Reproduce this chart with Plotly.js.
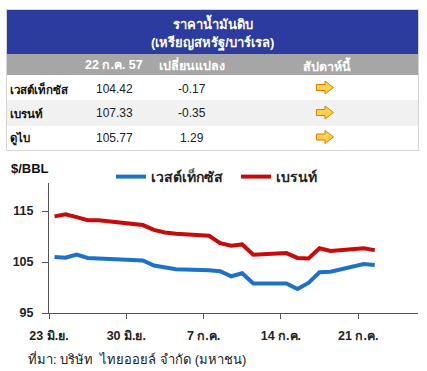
<!DOCTYPE html>
<html>
<head>
<meta charset="utf-8">
<script src="https://cdn.plot.ly/plotly-3.0.1.min.js"></script>
<style>html,body{margin:0;padding:0;background:#fff;}#chart{width:427px;height:371px;}</style>
</head>
<body>
<div id="chart"></div>
<script>
// ---------- data ----------
var dates = ['2014-06-23','2014-06-24','2014-06-25','2014-06-26','2014-06-27',
             '2014-06-30','2014-07-01','2014-07-02','2014-07-03','2014-07-04',
             '2014-07-07','2014-07-08','2014-07-09','2014-07-10','2014-07-11',
             '2014-07-14','2014-07-15','2014-07-16','2014-07-17','2014-07-18',
             '2014-07-21','2014-07-22'];
var wtiValues   = [106.0,105.85,106.45,105.8,105.7,105.5,105.3,104.3,103.9,103.6,
                   103.4,103.2,102.2,102.8,100.8,100.8,99.7,100.9,103.0,103.1,104.59,104.42];
var brentValues = [113.95,114.35,113.8,113.2,113.2,112.45,112.25,111.3,110.8,110.55,
                   110.15,108.7,108.2,108.45,106.45,106.75,105.8,105.7,107.7,107.15,107.68,107.33];
var seriesNames = ['เวสต์เท็กซัส','เบรนท์'];
var xTickVals  = ['2014-06-22 12:00','2014-06-29 12:00','2014-07-06 12:00','2014-07-13 12:00','2014-07-20 12:00'];
var xTickText  = ['23 มิ.ย.','30 มิ.ย.','7 ก.ค.','14 ก.ค.','21 ก.ค.'];
var yTickVals  = [95,105,115];

var tableTitle1 = 'ราคาน้ำมันดิบ';
var tableTitle2 = '(เหรียญสหรัฐ/บาร์เรล)';
var tableHeaders = ['22 ก.ค. 57','เปลี่ยนแปลง','สัปดาห์นี้'];
var rowNames   = ['เวสต์เท็กซัส','เบรนท์','ดูไบ'];
var rowPrices  = ['104.42','107.33','105.77'];
var rowChanges = ['-0.17','-0.35','1.29'];
var yUnit = '$/BBL';
var sourceText = 'ที่มา: บริษัท  ไทยออยล์ จำกัด (มหาชน)';

// ---------- helpers (pixel -> paper) ----------
var W = 427, H = 371;
function px(x){ return x / W; }
function py(y){ return 1 - y / H; }
var FONT = 'Tahoma, "Liberation Sans", Arial, sans-serif';

var shapes = [];
var annotations = [];

// table backgrounds
shapes.push({type:'rect', xref:'paper', yref:'paper', x0:px(7), x1:px(418), y0:py(10), y1:py(54),
             fillcolor:'#2b3c9e', line:{width:0}, layer:'below'});
shapes.push({type:'rect', xref:'paper', yref:'paper', x0:px(7), x1:px(418), y0:py(54), y1:py(75),
             fillcolor:'#a6a6a6', line:{width:0}, layer:'below'});
shapes.push({type:'rect', xref:'paper', yref:'paper', x0:px(7), x1:px(418), y0:py(100), y1:py(126),
             fillcolor:'#f1f1f1', line:{width:0}, layer:'below'});
// table border
shapes.push({type:'rect', xref:'paper', yref:'paper', x0:px(6.5), x1:px(418.5), y0:py(9.5), y1:py(150.5),
             fillcolor:'rgba(0,0,0,0)', line:{width:1, color:'#d4d4d4'}, layer:'below'});

annotations.push({xref:'paper', yref:'paper', x:px(212.5), y:py(23), text:tableTitle1, showarrow:false,
                  xanchor:'center', yanchor:'middle', font:{family:FONT, size:13, color:'#ffffff', weight:'bold'}});
annotations.push({xref:'paper', yref:'paper', x:px(212.5), y:py(43), text:tableTitle2, showarrow:false,
                  xanchor:'center', yanchor:'middle', font:{family:FONT, size:13, color:'#ffffff', weight:'bold'}});
var colX = [114, 192, 327];
for (var i = 0; i < tableHeaders.length; i++) {
  annotations.push({xref:'paper', yref:'paper', x:px(colX[i]), y:py(65), text:tableHeaders[i], showarrow:false,
                    xanchor:'center', yanchor:'middle', font:{family:FONT, size:12.5, color:'#ffffff', weight:'bold'}});
}
var rowY = [88.5, 113.5, 138];
function arrowPath(cx, cy){
  var pts = [[cx-8.5,cy-3],[cx,cy-3],[cx,cy-6.5],[cx+8.5,cy],[cx,cy+6.5],[cx,cy+3],[cx-8.5,cy+3]];
  return 'M' + pts.map(function(p){ return px(p[0]) + ',' + py(p[1]); }).join(' L') + ' Z';
}
for (var r = 0; r < rowNames.length; r++) {
  annotations.push({xref:'paper', yref:'paper', x:px(8), y:py(rowY[r]), text:rowNames[r], showarrow:false,
                    xanchor:'left', yanchor:'middle', font:{family:FONT, size:11.5, color:'#111', weight:'bold'}});
  annotations.push({xref:'paper', yref:'paper', x:px(colX[0]), y:py(rowY[r]), text:rowPrices[r], showarrow:false,
                    xanchor:'center', yanchor:'middle', font:{family:FONT, size:12, color:'#222'}});
  annotations.push({xref:'paper', yref:'paper', x:px(colX[1]), y:py(rowY[r]), text:rowChanges[r], showarrow:false,
                    xanchor:'center', yanchor:'middle', font:{family:FONT, size:12, color:'#222'}});
  shapes.push({type:'path', xref:'paper', yref:'paper', path:arrowPath(325, rowY[r]-1),
               fillcolor:'#fcd34a', line:{color:'#e07b00', width:1}});
}

annotations.push({xref:'paper', yref:'paper', x:px(9), y:py(168), text:'<b>' + yUnit + '</b>', showarrow:false,
                  xanchor:'left', yanchor:'middle', font:{family:FONT, size:13, color:'#111'}});
annotations.push({xref:'paper', yref:'paper', x:px(26), y:py(359), text:sourceText, showarrow:false,
                  xanchor:'left', yanchor:'middle', font:{family:FONT, size:13, color:'#222'}});

var traces = [
  {x:dates, y:wtiValues, type:'scatter', mode:'lines', name:seriesNames[0],
   line:{color:'#1d72c8', width:4}, legend:'legend'},
  {x:dates, y:brentValues, type:'scatter', mode:'lines', name:seriesNames[1],
   line:{color:'#c80a0a', width:4}, legend:'legend2'}
];

var legendBase = {orientation:'h', yanchor:'middle', xanchor:'left', y:py(177),
                  bgcolor:'rgba(0,0,0,0)', font:{family:FONT, size:14, color:'#222', weight:'bold'},
                  itemwidth:30};

var layout = {
  width:W, height:H,
  margin:{l:0, r:0, t:0, b:0},
  paper_bgcolor:'#ffffff', plot_bgcolor:'#ffffff',
  showlegend:true,
  legend:Object.assign({}, legendBase, {x:px(111)}),
  legend2:Object.assign({}, legendBase, {x:px(236)}),
  xaxis:{type:'date', range:['2014-06-22 12:00','2014-07-25 22:00'], domain:[px(49), px(418)],
         showline:true, linecolor:'#555', linewidth:1, ticks:'outside', ticklen:5, tickcolor:'#555',
         tickmode:'array', tickvals:xTickVals, ticktext:xTickText, showgrid:false, zeroline:false,
         ticklabelstandoff:6, tickfont:{family:FONT, size:12.5, color:'#222', weight:'bold'}},
  yaxis:{range:[95,120.5], domain:[py(313), py(183)], showline:true, linecolor:'#555', linewidth:1,
         ticks:'outside', ticklen:6, tickcolor:'#555', tickmode:'array', tickvals:yTickVals,
         showgrid:false, zeroline:false, ticklabelstandoff:6,
         tickfont:{family:FONT, size:12.5, color:'#222', weight:'bold'}},
  shapes:shapes,
  annotations:annotations
};

Plotly.newPlot('chart', traces, layout, {displayModeBar:false, staticPlot:true});
</script>
</body>
</html>
